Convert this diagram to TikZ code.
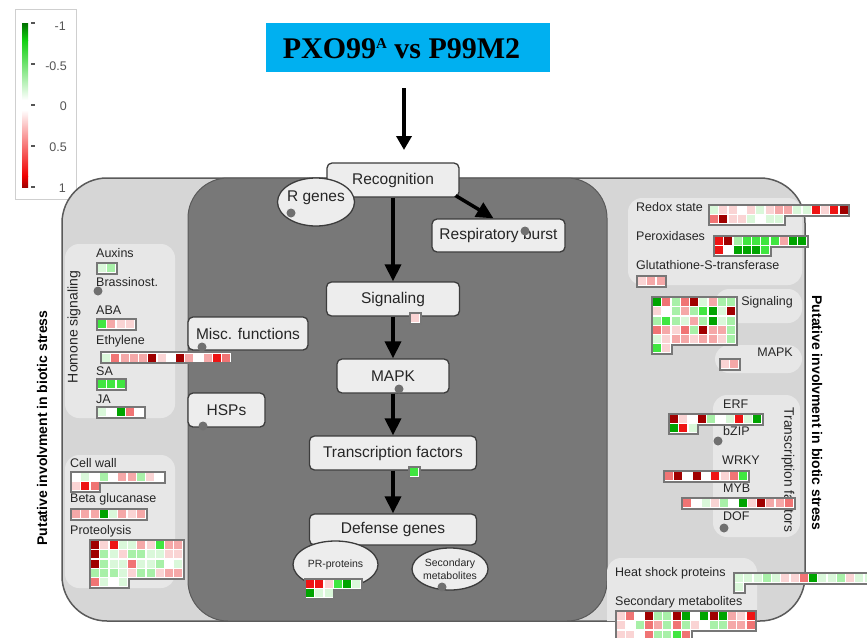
\documentclass[tikz,border=0pt]{standalone}
\usepackage{fontspec}
\setmainfont{Liberation Sans}
\newfontfamily\titlefont{Liberation Serif}
\usetikzlibrary{arrows.meta,shapes.geometric}
\definecolor{R4}{HTML}{A00000}
\definecolor{R3}{HTML}{EE1414}
\definecolor{R2}{HTML}{F07474}
\definecolor{R1}{HTML}{F5A8A8}
\definecolor{R0}{HTML}{FAD4D4}
\definecolor{W}{HTML}{FFFFFF}
\definecolor{G0}{HTML}{DAF8DA}
\definecolor{G1}{HTML}{A8F0A8}
\definecolor{G2}{HTML}{40E640}
\definecolor{G3}{HTML}{00A400}
\definecolor{hmframe}{HTML}{777777}
\definecolor{outerc}{HTML}{D6D6D6}
\definecolor{darkc}{HTML}{787878}
\definecolor{panelc}{HTML}{E7E7E7}
\definecolor{nodefill}{HTML}{EDEDED}
\definecolor{nodeline}{HTML}{3C3C3C}
\definecolor{outline}{HTML}{5A5A5A}
\definecolor{dotc}{HTML}{707070}
\definecolor{titleblue}{HTML}{00B0F0}
\definecolor{legline}{HTML}{CFCFCF}
\definecolor{legtext}{HTML}{555555}
\definecolor{lgD}{HTML}{007000}
\definecolor{lgG}{HTML}{10D010}
\definecolor{lgR}{HTML}{F00000}
\definecolor{lgDR}{HTML}{A00000}
\newcommand\hmap[4]{%
  \foreach \hc [count=\hi from 0] in {#4}{%
    \pgfmathsetmacro\hx{#1+mod(\hi,#3)*9.25}%
    \pgfmathsetmacro\hy{#2+int(\hi/#3)*9.25}%
    \fill[hmframe] (\hx-2,\hy-2) rectangle ++(13.25,13.25);}%
  \foreach \hc [count=\hi from 0] in {#4}{%
    \pgfmathsetmacro\hx{#1+mod(\hi,#3)*9.25}%
    \pgfmathsetmacro\hy{#2+int(\hi/#3)*9.25}%
    \fill[white] (\hx,\hy) rectangle ++(9.25,9.25);
    \fill[\hc] (\hx+0.6,\hy+0.6) rectangle ++(8.05,8.05);}%
}
\tikzset{
  nbox/.style={draw=nodeline, fill=nodefill, rounded corners=5pt, line width=1.3pt, inner sep=0pt, text=black!85, font=\fontsize{15.5}{18}\selectfont},
  lab/.style={anchor=base west, inner sep=0pt, text=black!85, font=\fontsize{12.5}{14}\selectfont},
  labr/.style={lab, anchor=base east},
  dotn/.style={circle, fill=dotc, minimum size=9pt, inner sep=0pt},
  arr/.style={line width=3.5pt, -{Triangle[length=17pt,width=16pt]}},
  panel/.style={fill=panelc, rounded corners=14pt},
  ell/.style={ellipse, draw=nodeline, fill=nodefill, line width=1.3pt, inner sep=0pt, text=black!85},
  legl/.style={anchor=east, inner sep=0pt, text=legtext, font=\fontsize{12.5}{14}\selectfont},
  side/.style={inner sep=0pt, font=\bfseries\fontsize{14}{16}\selectfont},
}
\begin{document}
\begin{tikzpicture}[x=1pt,y=-1pt]
\useasboundingbox (0,0) rectangle (867,637);
\clip (0,0) rectangle (867,637);
\fill[white] (0,0) rectangle (867,637);
% legend
\draw[draw=legline, fill=white, line width=1pt] (15,9) rectangle (76,199);
\shade[top color=lgD, bottom color=lgG] (22,23) rectangle (28,40);
\shade[top color=lgG, bottom color=white] (22,40) rectangle (28,100);
\fill[white] (22,100) rectangle (28,110);
\shade[top color=white, bottom color=lgR] (22,110) rectangle (28,176);
\shade[top color=lgR, bottom color=lgDR] (22,176) rectangle (28,187);
\foreach \ty in {23,64,105,146,187} \draw[legtext, line width=1.2pt] (31,\ty) -- (35,\ty);
\node[legl] (lg1) at (66,26) {-1};
\node[legl] (lg2) at (67,66) {-0.5};
\node[legl] (lg3) at (67,106) {0};
\node[legl] (lg4) at (67,147) {0.5};
\node[legl] (lg5) at (66,188) {1};
% title
\node[fill=titleblue, minimum width=284pt, minimum height=49pt, inner sep=0pt] (title) at (408,47.5) {};
\node[inner sep=0pt, font={\titlefont\bfseries\fontsize{30}{32}\selectfont}] (titletext) at (401.5,49) {PXO99\raisebox{10pt}{\fontsize{15}{16}\selectfont A} vs P99M2};
\coordinate (ta) at (404,88);
\coordinate (tb) at (404,150);
\draw[line width=3.5pt, -{Triangle[length=14pt,width=15pt]}] (ta) -- (tb);
% outer shapes
\draw[draw=outline, fill=outerc, line width=1.5pt, rounded corners=45pt] (62,178) rectangle (805,621);
\draw[draw=outline, fill=darkc, line width=1pt, rounded corners=40pt] (188,178) rectangle (607,621);
\begin{scope}
\clip[rounded corners=45pt] (62,178) rectangle (805,621);
\fill[panel] (65,244) rectangle (175,418);
\fill[panel] (65,455) rectangle (175,588);
\fill[panel] (628,198) rectangle (802,285);
\fill[panel] (715,289) rectangle (802,323);
\fill[panel] (715,345) rectangle (802,373);
\fill[panel] (713,395) rectangle (800,537);
\fill[panel] (607,558) rectangle (757,640);
\end{scope}
% side labels
\node[side, rotate=90] (putl) at (42,428) {Putative involvment in biotic stress};
\node[side, rotate=-90] (putr) at (817,413) {Putative involvment in biotic stress};
\node[rotate=90, inner sep=0pt, text=black!85, font=\fontsize{14}{16}\selectfont] (hormlab) at (74,327) {Homone signaling};
\node[rotate=-90, inner sep=0pt, text=black!85, font=\fontsize{13.8}{16}\selectfont] (tflab) at (788,470) {Transcription factors};
% left labels
\node[lab] (lAux) at (96,257) {Auxins};
\node[lab] (lBra) at (96,286) {Brassinost.};
\node[lab] (lABA) at (96,314) {ABA};
\node[lab] (lEth) at (96,344) {Ethylene};
\node[lab] (lSA) at (96,375) {SA};
\node[lab] (lJA) at (96,403) {JA};
\node[lab] (lCW) at (70,467) {Cell wall};
\node[lab] (lBG) at (70,502) {Beta glucanase};
\node[lab] (lPro) at (70,534) {Proteolysis};
\node[dotn] (dBra) at (98,291) {};
% right labels
\node[lab] (lRed) at (636,211) {Redox state};
\node[lab] (lPer) at (636,240) {Peroxidases};
\node[lab] (lGST) at (636,269) {Glutathione-S-transferase};
\node[labr] (lSig) at (793,305) {Signaling};
\node[labr] (lMAPK) at (793,356) {MAPK};
\node[lab] (lERF) at (723,408) {ERF};
\node[lab] (lbZIP) at (723,435) {bZIP};
\node[lab] (lWRKY) at (722,464) {WRKY};
\node[lab] (lMYB) at (723,492) {MYB};
\node[lab] (lDOF) at (723,520) {DOF};
\node[dotn] (dbZIP) at (718,441) {};
\node[dotn] (dDOF) at (724,528) {};
\node[lab] (lHSP) at (615,576) {Heat shock proteins};
\node[lab] (lSM) at (615,605) {Secondary metabolites};
% central nodes
\node[nbox, minimum width=132pt, minimum height=34pt] (rec) at (393,180) {Recognition};
\node[ell, minimum width=77pt, minimum height=48pt] (rgen) at (316,202) {};
\node[inner sep=0pt, text=black!85, font=\fontsize{15.5}{18}\selectfont] (rgent) at (316,198) {R genes};
\node[dotn] (drgen) at (291,213) {};
\node[nbox, minimum width=133pt, minimum height=33pt] (resp) at (498.5,235.5) {Respiratory burst};
\node[dotn] (dresp) at (525,231) {};
\node[nbox, minimum width=133pt, minimum height=34pt] (sig) at (393,299) {Signaling};
\node[nbox, minimum width=112pt, minimum height=34pt] (mapk) at (393,376) {MAPK};
\node[dotn] (dmapk) at (399,389) {};
\node[nbox, minimum width=167pt, minimum height=34pt] (tf) at (393,453) {Transcription factors};
\node[nbox, minimum width=167pt, minimum height=31pt] (def) at (393,529.5) {Defense genes};
\node[ell, minimum width=85pt, minimum height=47pt, font=\fontsize{10.5}{12}\selectfont] (pr) at (335.5,564.5) {PR-proteins};
\node[ell, minimum width=76pt, minimum height=42pt, align=center, font=\fontsize{10.5}{12.5}\selectfont] (sm) at (450,569) {Secondary\\metabolites};
\node[dotn] (dsm) at (442,587) {};
\node[nbox, minimum width=120pt, minimum height=33pt] (misc) at (248,333.5) {Misc. functions};
\node[dotn] (dmisc) at (202,347) {};
\node[nbox, minimum width=77pt, minimum height=34pt] (hsp) at (226.5,410) {HSPs};
\node[dotn] (dhsp) at (203,426) {};
% arrows
\draw[arr] (rec) -- (sig);
\draw[arr] (sig) -- (mapk);
\draw[arr] (mapk) -- (tf);
\draw[arr] (tf) -- (def);
\draw[arr] ([shift={(-4,-2)}]rec.south east) -- ([xshift=-5pt]resp.north);
% heatmaps
\hmap{97.5}{263.5}{2}{G0,G1}
\hmap{97.5}{319.5}{4}{G2,R1,R0,R0}
\hmap{101.5}{353}{14}{G0,R2,R1,R1,R1,R4,R0,W,R4,R1,W,R1,R3,R2}
\hmap{97.5}{379.5}{3}{G2,G2,G2}
\hmap{97.5}{407.5}{5}{G0,W,G3,R2,W}
\hmap{71.5}{472.5}{10}{W,G0,W,G1,W,R1,R1,G1,R0,W,R0,R3,R2}
\hmap{71.5}{509.5}{8}{R1,R1,R1,G3,G0,R1,R0,R1}
\hmap{90.5}{540.5}{10}{R4,R0,R3,G0,G0,R1,R0,G2,R1,R1,
R4,G1,G0,R0,G1,G1,G0,G0,R0,R0,
R4,G1,G0,G0,R2,G0,G0,G1,W,G0,
G1,G1,G1,G0,R0,G1,G1,R0,R1,R1,
R2,G0,W,G0}
\hmap{709.5}{205.5}{15}{G0,R0,R0,W,R0,G0,R0,R1,R1,G0,G0,R3,R0,R3,R4,
R2,R4,R0,R0,G0,W,G0,G0}
\hmap{714.5}{236.5}{10}{R3,R4,G1,G2,G2,G2,G2,R1,G3,G3,
R3,W,G3,G3,G3,G2}
\hmap{637.5}{276.5}{3}{R0,R1,R1}
\hmap{652.5}{297.5}{9}{G3,R2,G1,R2,R4,G0,R1,G1,G1,
R0,W,G1,R1,G1,G2,G3,G0,R4,
G1,G2,G1,G0,R1,G1,G3,G0,G1,
R2,R1,R0,R2,G1,R4,R1,R1,G1,
G0,R0,R1,R1,R0,R1,R1,R0,G1,
G2,R0}
\hmap{720.5}{359.5}{2}{R0,R1}
\hmap{669.5}{414.5}{10}{R4,R0,W,R4,G1,W,G0,R3,G0,G3,
G3,R3,G0}
\hmap{664.5}{471.5}{9}{R2,R4,W,R4,W,R3,R0,R2,G2}
\hmap{682.5}{498.5}{12}{R2,W,G0,R0,G1,W,G3,R0,R4,R1,R1,R2}
\hmap{734.5}{573.5}{15}{G0,G0,G0,G1,G0,R0,R0,R2,G3,G0,G0,G1,R0,G0,G0,
G0}
\hmap{616.5}{611.5}{15}{R0,R2,W,R4,G1,G1,R4,G3,W,G3,R4,G3,R1,R0,R3,
R0,W,G1,R2,R1,G1,R2,G1,R0,W,G1,G1,R1,R1,R2,
R0,R0,W,R2,G1,G1,G2,R2}
\hmap{305.5}{579.5}{6}{R3,R3,R0,G2,G3,G0,
G3,G0,G0}
\hmap{410.5}{313.5}{1}{R0}
\hmap{409.5}{467.5}{1}{G2}
\end{tikzpicture}
\end{document}
